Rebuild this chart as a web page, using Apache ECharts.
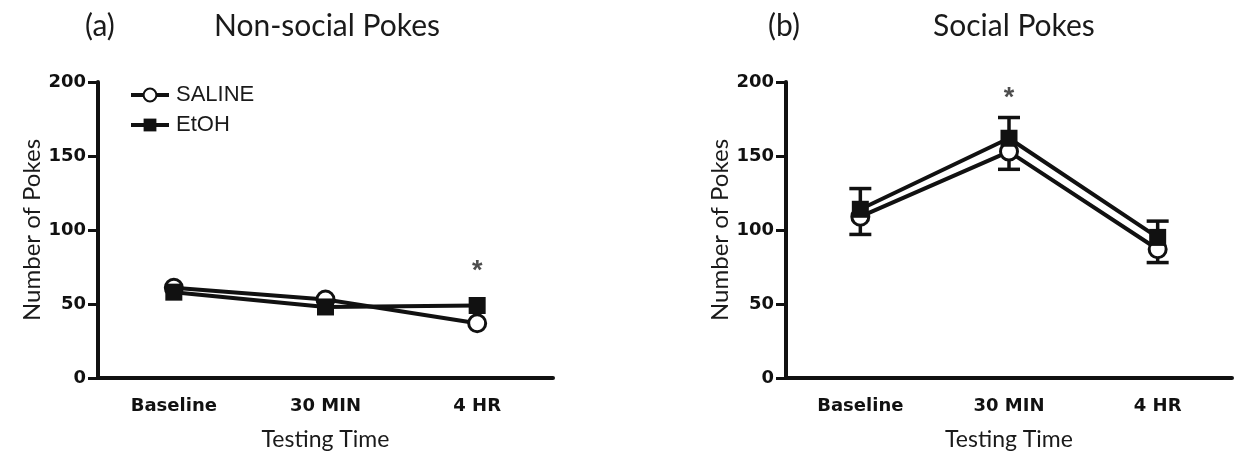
<!DOCTYPE html>
<html><head><meta charset="utf-8">
<script src="https://cdn.jsdelivr.net/npm/echarts@6/dist/echarts.min.js"></script>
<style>html,body{margin:0;padding:0;background:#fff}#c{width:1241px;height:462px}</style>
</head><body><div id="c"></div>
<script>
const categories = ['Baseline', '30 MIN', '4 HR'];
const yTicks = [0, 50, 100, 150, 200];
// Panel (a) Non-social pokes
const nsSaline = [61, 53, 37];
const nsEtoh = [58, 48, 49];
// Panel (b) Social pokes
const sSaline = [109, 153, 87];
const sSalineLow = [97, 141, 78];
const sEtoh = [114, 162, 95];
const sEtohHigh = [128, 176, 106];
// Significance markers [category index, y]
const nsStar = [[2, 72]];
const sStar = [[1, 189]];

const chart = echarts.init(document.getElementById('c'));
const calib = 'Lato, "Open Sans", sans-serif';
const arial = '"Liberation Sans", Arial, sans-serif';
const heavy = '"DejaVu Sans", Arial, sans-serif';

function xAxis(gi) {
  return {
    type: 'category', gridIndex: gi, data: categories, boundaryGap: true,
    name: 'Testing Time', nameLocation: 'middle', nameGap: 50,
    nameTextStyle: { fontFamily: calib, fontSize: 23, color: '#1a1a1a' },
    axisLine: { lineStyle: { color: '#111', width: 4 } },
    axisTick: { alignWithLabel: true, length: 10, lineStyle: { width: 3, color: '#111' } },
    axisLabel: { fontFamily: heavy, fontWeight: 'bold', fontSize: 18, color: '#111', margin: 19 },
    splitLine: { show: false }
  };
}
function yAxis(gi) {
  return {
    type: 'value', gridIndex: gi, min: 0, max: 200, interval: 50,
    name: 'Number of Pokes', nameLocation: 'middle', nameGap: 53,
    nameTextStyle: { fontFamily: calib, fontSize: 24, color: '#1a1a1a' },
    axisLine: { show: true, lineStyle: { color: '#111', width: 4 } },
    axisTick: { show: true, length: 10, lineStyle: { width: 3, color: '#111' } },
    axisLabel: { fontFamily: heavy, fontWeight: 'bold', fontSize: 18, color: '#111', margin: 12,
      formatter: v => yTicks.includes(v) ? String(v) : '' },
    splitLine: { show: false }
  };
}
function lineSeries(name, data, gi, symbol) {
  const filled = symbol === 'rect';
  return {
    name, type: 'line', xAxisIndex: gi, yAxisIndex: gi, data,
    symbol, symbolSize: 17, showSymbol: true,
    lineStyle: { color: '#111', width: 4 },
    itemStyle: { color: filled ? '#111' : '#fff', borderColor: '#111', borderWidth: filled ? 0 : 3 },
    z: filled ? 5 : 4, animation: false
  };
}
function errSeries(mean, bound, gi) {
  return {
    type: 'custom', xAxisIndex: gi, yAxisIndex: gi, z: 3, animation: false,
    data: categories.map((c, i) => [i, mean[i], bound[i]]),
    renderItem: (params, api) => {
      const p1 = api.coord([api.value(0), api.value(1)]);
      const p2 = api.coord([api.value(0), api.value(2)]);
      const st = { stroke: '#111', lineWidth: 3.5 };
      return { type: 'group', children: [
        { type: 'line', shape: { x1: p1[0], y1: p1[1], x2: p2[0], y2: p2[1] }, style: st },
        { type: 'line', shape: { x1: p2[0] - 11, y1: p2[1], x2: p2[0] + 11, y2: p2[1] }, style: st }
      ]};
    }
  };
}
function starSeries(data, gi) {
  return {
    type: 'scatter', xAxisIndex: gi, yAxisIndex: gi, data, symbol: 'circle', symbolSize: 2,
    itemStyle: { color: 'rgba(0,0,0,0)' }, animation: false, z: 6,
    label: { show: true, formatter: '*', position: 'inside', fontFamily: arial, fontWeight: 'bold', fontSize: 27, color: '#222' }
  };
}

const titleStyle = { fontFamily: calib, fontWeight: 'normal', fontSize: 30, color: '#1a1a1a' };
chart.setOption({
  backgroundColor: '#fff',
  animation: false,
  title: [
    { text: '(a)', left: 80, top: 6, textStyle: titleStyle },
    { text: 'Non-social Pokes', left: 209, top: 6, textStyle: titleStyle },
    { text: '(b)', left: 763, top: 6, textStyle: titleStyle },
    { text: 'Social Pokes', left: 928, top: 6, textStyle: titleStyle }
  ],
  legend: {
    left: 124, top: 79, orient: 'vertical', itemGap: 8, itemWidth: 38, itemHeight: 16,
    data: ['SALINE', 'EtOH'],
    lineStyle: { width: 4, color: '#111' },
    textStyle: { fontFamily: arial, fontSize: 22, color: '#1a1a1a', padding: [0, 0, 0, 2] }
  },
  grid: [
    { left: 98, top: 82, width: 455, height: 296 },
    { left: 786, top: 82, width: 446, height: 296 }
  ],
  xAxis: [xAxis(0), xAxis(1)],
  yAxis: [yAxis(0), yAxis(1)],
  series: [
    lineSeries('SALINE', nsSaline, 0, 'circle'),
    lineSeries('EtOH', nsEtoh, 0, 'rect'),
    errSeries(sSaline, sSalineLow, 1),
    errSeries(sEtoh, sEtohHigh, 1),
    lineSeries('SALINE', sSaline, 1, 'circle'),
    lineSeries('EtOH', sEtoh, 1, 'rect'),
    starSeries(nsStar, 0),
    starSeries(sStar, 1)
  ]
});
</script></body></html>
